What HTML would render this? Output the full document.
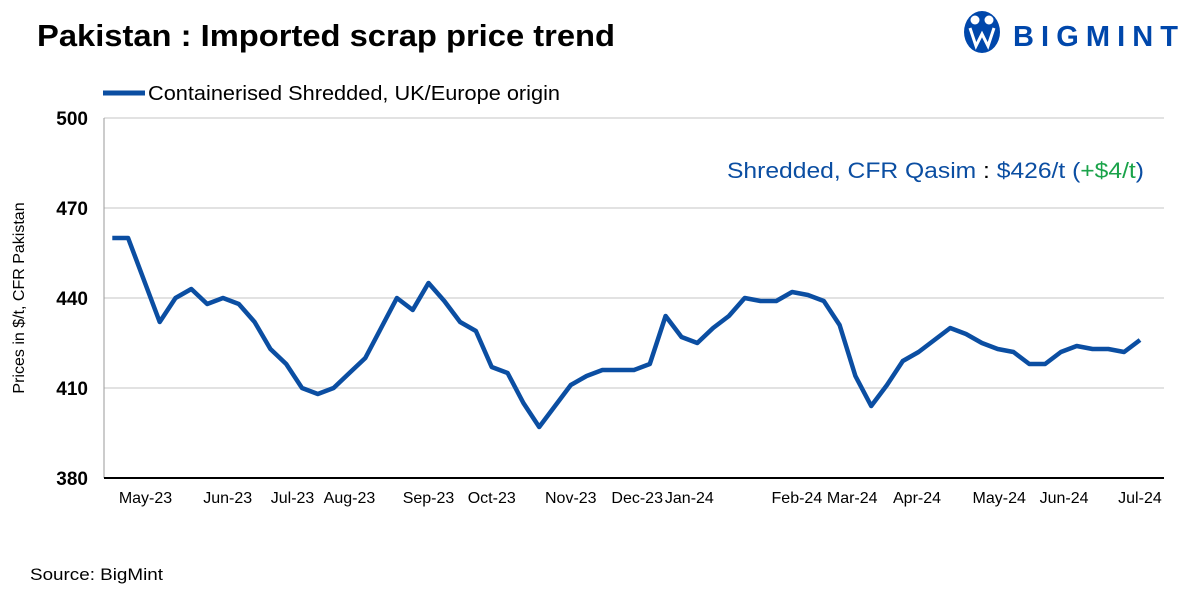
<!DOCTYPE html>
<html><head><meta charset="utf-8"><style>
body{margin:0;width:1200px;height:600px;background:#fff;overflow:hidden;font-family:"Liberation Sans",sans-serif}
</style></head><body>
<svg id="chart" width="1200" height="600" viewBox="0 0 1200 600">
<text x="37" y="46" font-size="31" font-weight="bold" fill="#000" textLength="578" lengthAdjust="spacingAndGlyphs">Pakistan : Imported scrap price trend</text>
<g>
<ellipse cx="982" cy="32" rx="18" ry="21" fill="#0047AB"/>
<circle cx="975" cy="20" r="4.5" fill="#fff"/><circle cx="989" cy="20" r="4.5" fill="#fff"/>
<path d="M970 28 L976 46 L982 34 L988 46 L994 28" stroke="#fff" stroke-width="3" fill="none"/>
<text x="1013" y="46" font-size="29" font-weight="bold" fill="#0047AB" textLength="165" lengthAdjust="spacing">BIGMINT</text>
</g>
<g>
<line x1="103" y1="93" x2="145" y2="93" stroke="#0B4EA2" stroke-width="5"/>
<text x="148" y="100" font-size="20" fill="#000" textLength="412" lengthAdjust="spacingAndGlyphs">Containerised Shredded, UK/Europe origin</text>
</g>
<g id="grid"></g><g id="yticks"></g><g id="xticks"></g>
<line x1="104" y1="118" x2="104" y2="478" stroke="#999" stroke-width="1"/>
<line x1="104" y1="478" x2="1164" y2="478" stroke="#000" stroke-width="2"/>
<path id="line" fill="none" stroke="#0B4EA2" stroke-width="4.5" stroke-linejoin="round"/>
<text transform="translate(24,298) rotate(-90)" text-anchor="middle" font-size="16" fill="#000">Prices in $/t, CFR Pakistan</text>
<text x="727" y="178" font-size="22" textLength="417" lengthAdjust="spacingAndGlyphs"><tspan fill="#0B4EA2">Shredded, CFR Qasim</tspan><tspan fill="#000"> : </tspan><tspan fill="#0B4EA2">$426/t (</tspan><tspan fill="#1AA34A">+$4/t</tspan><tspan fill="#0B4EA2">)</tspan></text>
<text x="30" y="580" font-size="17" fill="#000" textLength="133" lengthAdjust="spacingAndGlyphs">Source: BigMint</text>
</svg>
<script>
const prices=[460,460,446,432,440,443,438,440,438,432,423,418,410,408,410,415,420,430,440,436,445,439,432,429,417,415,405,397,404,411,414,416,416,416,418,434,427,425,430,434,440,439,439,442,441,439,431,414,404,411,419,422,426,430,428,425,423,422,418,418,422,424,423,423,422,426];
const tickLabels=["May-23","Jun-23","Jul-23","Aug-23","Sep-23","Oct-23","Nov-23","Dec-23","Jan-24","Feb-24","Mar-24","Apr-24","May-24","Jun-24","Jul-24"];
const tickIndex=[2.1,7.3,11.4,15,20,24,29,33.2,36.5,43.3,46.8,50.9,56.1,60.2,65];
const yTicks=[380,410,440,470,500];
const NS="http://www.w3.org/2000/svg";
const x=i=>112.3+i*15.81;
const y=v=>478-(v-380)*3;
let d=prices.map((v,i)=>(i?"L":"M")+x(i).toFixed(1)+" "+y(v).toFixed(1)).join(" ");
document.getElementById('line').setAttribute('d',d);
const grid=document.getElementById('grid'),yt=document.getElementById('yticks'),xt=document.getElementById('xticks');
yTicks.forEach(v=>{
 if(v>380){const l=document.createElementNS(NS,'line');
 l.setAttribute('x1',104);l.setAttribute('x2',1164);l.setAttribute('y1',y(v));l.setAttribute('y2',y(v));
 l.setAttribute('stroke','#d9d9d9');l.setAttribute('stroke-width','1.5');
 
 
 grid.appendChild(l);}
 const t=document.createElementNS(NS,'text');
 t.setAttribute('x',88);t.setAttribute('y',y(v)+7);t.setAttribute('text-anchor','end');
 t.setAttribute('font-size','19');t.setAttribute('font-weight','bold');t.textContent=v;
 
 
 yt.appendChild(t);
});
tickLabels.forEach((s,k)=>{
 const t=document.createElementNS(NS,'text');
 t.setAttribute('x',x(tickIndex[k]));t.setAttribute('y',503);t.setAttribute('text-anchor','middle');
 t.setAttribute('font-size','16');t.textContent=s;
 
 
 xt.appendChild(t);
});
</script>
</body></html>
